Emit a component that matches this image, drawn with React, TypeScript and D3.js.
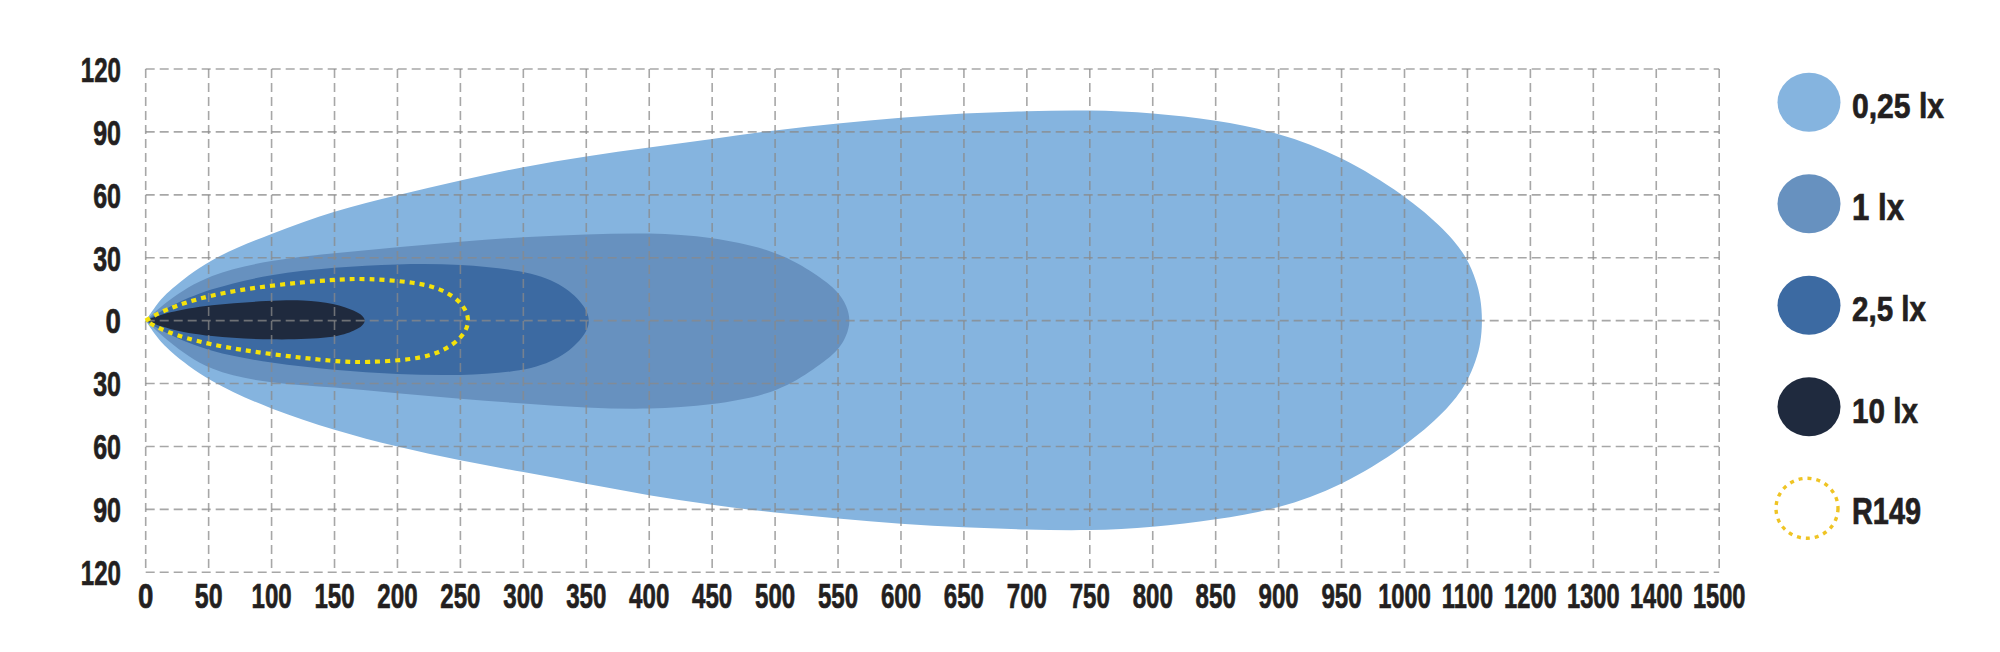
import * as d3 from 'd3'

// distance (m) along the beam, lateral spread (m); upper edge out, lower edge back
const lux025: [number, number][] = [
  [0, 0], [9, 8], [17, 13.6], [50, 29.5], [100, 41.5], [150, 52.6], [200, 59.8], [250, 67],
  [300, 73.4], [350, 78.5], [400, 82.6], [450, 86.6], [500, 90.9], [550, 94.1], [600, 96.8],
  [650, 98.9], [700, 100], [750, 100.5], [800, 99.2], [850, 95.7], [900, 89.8], [950, 78.5],
  [1000, 60], [1066, 43], [1100, 30], [1114, 18.8], [1121, 11], [1124, 0],
  [1121, -11], [1114, -18.6], [1100, -29.6], [1066, -43.3], [1000, -60.3], [950, -78.9], [900, -89.8],
  [850, -94.9], [800, -98.6], [750, -100.2], [700, -99.7], [650, -98.6], [600, -97],
  [550, -94.3], [500, -91.7], [450, -87.9], [400, -83.4], [350, -77.8], [300, -72.2],
  [250, -66.7], [200, -60.3], [150, -52.3], [100, -42.4], [50, -29.2], [17, -13.6], [9, -8], [0, 0],
]

const lux1: [number, number][] = [
  [0, 0], [17, 9.6], [50, 22.3], [100, 29], [150, 32.2], [200, 35], [250, 37.8], [300, 39.9],
  [350, 41.1], [400, 42], [450, 40], [500, 33.5], [528, 24], [550, 14.4], [557, 7], [560, 0],
  [557, -7], [550, -14.8], [528, -24.4], [500, -34.8], [450, -40.4], [400, -42.4], [350, -41.6],
  [300, -39.6], [250, -37.2], [200, -34.8], [150, -31.6], [100, -30], [50, -24.4], [17, -9.6], [0, 0],
]

const lux25: [number, number][] = [
  [0, 0], [17, 6.4], [50, 15.2], [100, 22.3], [150, 25.5], [200, 27.1], [250, 27.1], [300, 24],
  [330, 18], [348, 8], [354, 0],
  [348, -8], [330, -18], [300, -24.4], [250, -26.3], [200, -25.7], [150, -23.6], [100, -20.4],
  [50, -14.8], [17, -6.4], [0, 0],
]

const lux10: [number, number][] = [
  [0, 0], [17, 4], [50, 7.7], [100, 9.6], [125, 9.9], [150, 8.3], [167, 4.5], [172, 2.5], [175, 0],
  [172, -2.5], [167, -4.5], [150, -8.5], [100, -9.3], [50, -7.7], [17, -4], [0, 0],
]

const r149: [number, number][] = [
  [0, 0], [14, 5.1], [50, 12.3], [100, 17], [150, 19.6], [175, 20.2], [215, 18.3], [236, 15],
  [252, 8.3], [258, 0],
  [252, -7.9], [236, -14.8], [215, -18.5], [175, -20], [150, -19.5], [100, -16.1], [50, -11.6],
  [14, -5.1], [0, 0],
]

const xTicks = [
  0, 50, 100, 150, 200, 250, 300, 350, 400, 450, 500, 550, 600, 650, 700, 750, 800, 850, 900,
  950, 1000, 1100, 1200, 1300, 1400, 1500,
]
const yTicks = [120, 90, 60, 30, 0, -30, -60, -90, -120]

const legendLabels = ['0,25 lx', '1 lx', '2,5 lx', '10 lx', 'R149']

const COLORS = ['#85b4df', '#6791bf', '#3c6aa2', '#1f2a3e']
const YELLOW = '#f4e20a'
const GOLD = '#efc424'
const INK = '#231f20'
const FONT = "'Liberation Sans', Arial, sans-serif"
const FONT_SIZE = 36

// the source font is a very narrow grotesque: squeeze Liberation Sans Bold to fit
const LEGEND_WIDTH: Record<string, number> = {
  '0,25 lx': 92,
  '1 lx': 52,
  '2,5 lx': 74,
  '10 lx': 66,
  R149: 69,
}
const axisWidth = (s: string) => s.length * 12.4 + 3

// Liberation Sans Bold advance widths (em)
const naturalWidth = (s: string) =>
  s.split('').reduce((sum, c) => {
    if (c >= '0' && c <= '9') return sum + 0.556
    if (c === 'x') return sum + 0.556
    if (c === 'R') return sum + 0.722
    return sum + 0.278
  }, 0) * FONT_SIZE

function Label({
  x,
  y,
  text,
  width,
  anchor = 'start',
}: {
  x: number
  y: number
  text: string
  width: number
  anchor?: 'start' | 'middle' | 'end'
}) {
  const sx = width / naturalWidth(text)
  return (
    <g transform={`translate(${x},${y}) scale(${sx},1)`}>
      <text
        x={0}
        y={0}
        textAnchor={anchor}
        fill={INK}
        stroke={INK}
        strokeWidth={0.7}
        fontSize={FONT_SIZE}
      >
        {text}
      </text>
    </g>
  )
}

export default function App() {
  const width = 2000
  const height = 652

  // 0-1000 in 50 m steps, then 100 m steps up to 1500, all evenly spaced
  const x = d3.scaleLinear().domain([0, 1000, 1500]).range([145.7, 1404.5, 1719.2])
  const y = d3.scaleLinear().domain([120, -120]).range([69, 572.3])

  const line = d3
    .line<[number, number]>()
    .x((d) => x(d[0]))
    .y((d) => y(d[1]))
    .curve(d3.curveBasis)

  const zones = [lux025, lux1, lux25, lux10]

  return (
    <svg
      width={width}
      height={height}
      style={{ position: 'absolute', left: 0, top: 0, background: '#fff' }}
      fontFamily={FONT}
      fontWeight={700}
    >
      <g>
        {zones.map((zone, i) => (
          <path key={i} d={(line(zone) ?? '') + 'Z'} fill={COLORS[i]} />
        ))}
      </g>

      <g stroke="#8a8a8a" strokeOpacity={0.75} strokeWidth={1.6} strokeDasharray="9 5" fill="none">
        {yTicks.map((t) => (
          <line key={`h${t}`} x1={x(0)} x2={x(1500)} y1={y(t)} y2={y(t)} />
        ))}
        {xTicks.map((t) => (
          <line key={`v${t}`} x1={x(t)} x2={x(t)} y1={y(120)} y2={y(-120)} />
        ))}
      </g>

      <path
        d={line(r149) ?? ''}
        fill="none"
        stroke={YELLOW}
        strokeWidth={4.2}
        strokeDasharray="5 5"
      />

      <g>
        {yTicks.map((t) => {
          const s = String(Math.abs(t))
          return (
            <Label key={`yl${t}`} x={121} y={y(t) + 12.8} text={s} width={axisWidth(s)} anchor="end" />
          )
        })}
        {xTicks.map((t) => {
          const s = String(t)
          return <Label key={`xl${t}`} x={x(t)} y={608} text={s} width={axisWidth(s)} anchor="middle" />
        })}
      </g>

      <g>
        {legendLabels.map((label, i) => {
          const cy = 102.3 + i * 101.5
          return (
            <g key={label}>
              {i < COLORS.length ? (
                <ellipse cx={1809} cy={cy} rx={31.5} ry={29.5} fill={COLORS[i]} />
              ) : (
                <ellipse
                  cx={1807}
                  cy={cy}
                  rx={31}
                  ry={30}
                  fill="none"
                  stroke={GOLD}
                  strokeWidth={3.4}
                  strokeDasharray="4 5"
                />
              )}
              <Label x={1852} y={cy + 16} text={label} width={LEGEND_WIDTH[label]} />
            </g>
          )
        })}
      </g>
    </svg>
  )
}
